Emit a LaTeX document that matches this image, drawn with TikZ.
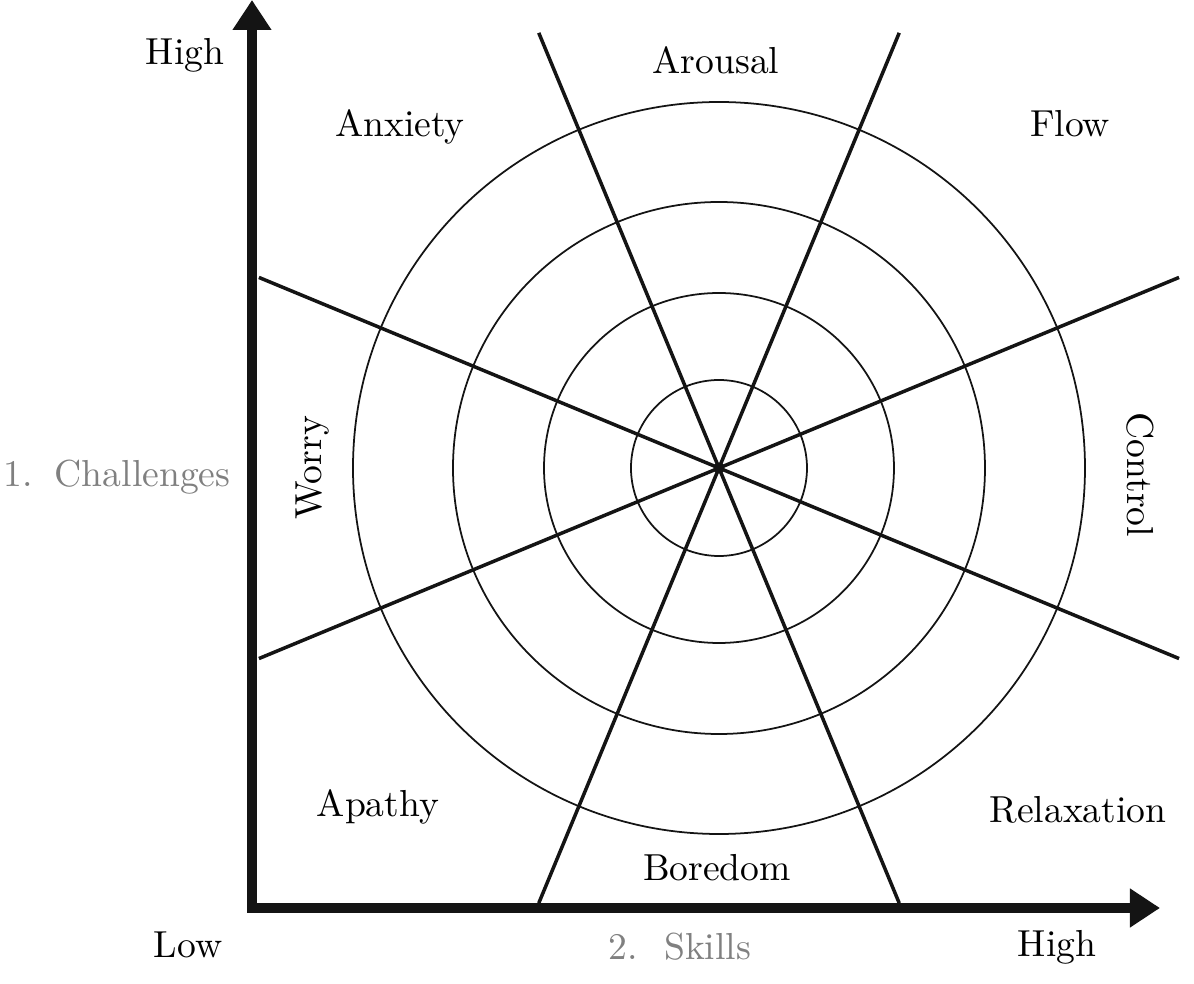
\documentclass[tikz,border=0pt]{standalone}
\usepackage{xcolor}
\usepackage{tikz}
\usetikzlibrary{arrows.meta, calc}
\definecolor{axisgray}{RGB}{128,128,128}
\definecolor{inkblack}{RGB}{20,20,20}

\begin{document}
\begin{tikzpicture}[
    font=\fontsize{10.7}{13}\selectfont,
    axis/.style={
        line width=2.7pt,
        color=inkblack,
        line join=miter,
        {Triangle[length=3mm,width=3.7mm]}-{Triangle[length=3mm,width=3.7mm]}
    },
    ring/.style={
        draw=inkblack,
        line width=0.5pt
    },
    spoke/.style={
        draw=inkblack,
        line width=1pt
    },
    zone/.style={
        inner sep=1pt
    },
    dimlabel/.style={
        inner sep=1pt,
        text=axisgray
    }
]
\useasboundingbox (-2.52,-0.76) rectangle (9.42,9.08);

% axes
\coordinate (origin) at (0,0);
\coordinate (ytip) at (0,9.08);
\coordinate (xtip) at (9.08,0);
\draw[axis] (ytip) -- (origin) -- (xtip);

% rings
\coordinate (hub) at (4.67,4.40);
\foreach \r in {0.88,1.75,2.66,3.66}
    \draw[ring] (hub) circle (\r);

% spokes
\foreach \a/\len in {22.5/4.98, 67.5/4.71, 112.5/4.71, 157.5/4.98} {
    \coordinate (sA) at ($(hub)+(\a:\len)$);
    \coordinate (sB) at ($(hub)+(\a+180:\len)$);
    \draw[spoke] (sA) -- (sB);
}
\fill[inkblack] (hub) circle (0.055);

% zone labels
\node[zone] (anxiety) at (1.48,7.81) {Anxiety};
\node[zone] (arousal) at (4.64,8.48) {Arousal};
\node[zone] (flow) at (8.18,7.84) {Flow};
\node[zone, rotate=90] (worry) at (0.61,4.40) {Worry};
\node[zone, rotate=-90] (control) at (8.88,4.33) {Control};
\node[zone] (apathy) at (1.26,1.01) {Apathy};
\node[zone] (boredom) at (4.65,0.40) {Boredom};
\node[zone] (relax) at (8.26,0.98) {Relaxation};

% axis labels
\node[zone] (yhigh) at (-0.67,8.53) {High};
\node[zone] (xlow) at (-0.64,-0.37) {Low};
\node[zone] (xhigh) at (8.05,-0.39) {High};
\node[dimlabel] (challenges) at (-1.35,4.31) {1.\hspace{2.2mm}Challenges};
\node[dimlabel] (skills) at (4.28,-0.39) {2.\hspace{2.6mm}Skills};

\end{tikzpicture}
\end{document}
